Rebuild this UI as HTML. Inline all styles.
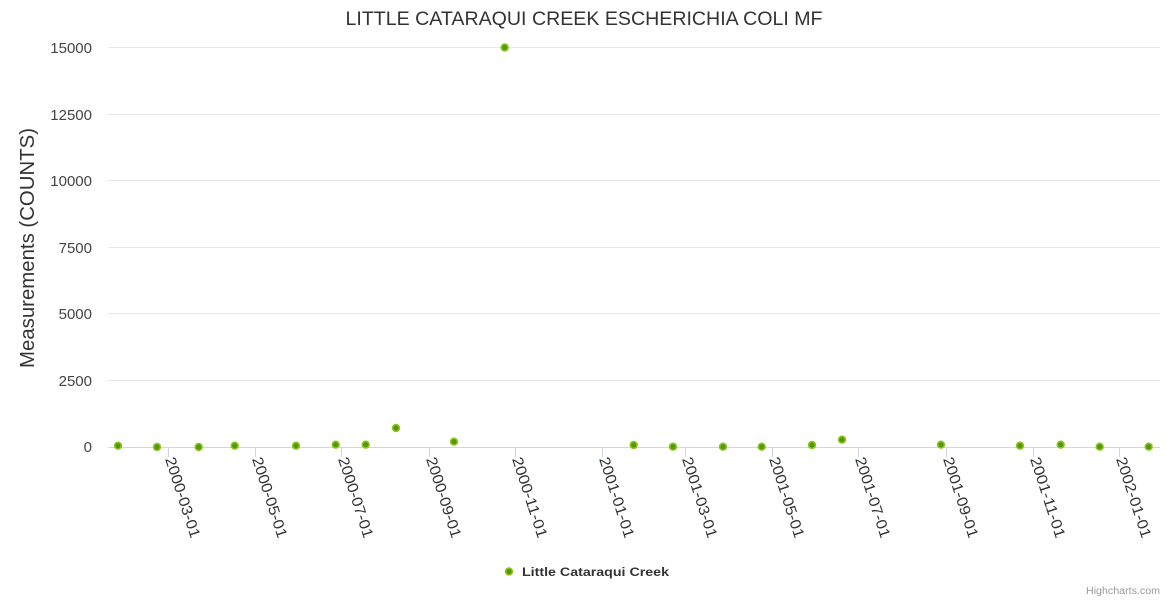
<!DOCTYPE html>
<html>
<head>
<meta charset="utf-8">
<style>
html,body{margin:0;padding:0;background:#fff;}
svg{display:block;font-family:"Liberation Sans",sans-serif;}
</style>
</head>
<body>
<svg width="1170" height="600" viewBox="0 0 1170 600" xmlns="http://www.w3.org/2000/svg">
<rect width="1170" height="600" fill="#ffffff"/>
<!-- title -->
<text x="584" y="25" text-anchor="middle" font-size="19" fill="#333333" textLength="477" lengthAdjust="spacingAndGlyphs">LITTLE CATARAQUI CREEK ESCHERICHIA COLI MF</text>
<!-- gridlines -->
<g stroke="#e6e6e6" stroke-width="1">
<line x1="108" y1="47.5" x2="1160" y2="47.5"/>
<line x1="108" y1="114.5" x2="1160" y2="114.5"/>
<line x1="108" y1="180.5" x2="1160" y2="180.5"/>
<line x1="108" y1="247.5" x2="1160" y2="247.5"/>
<line x1="108" y1="313.5" x2="1160" y2="313.5"/>
<line x1="108" y1="380.5" x2="1160" y2="380.5"/>
</g>
<!-- y labels -->
<g font-size="15" fill="#444444" text-anchor="end">
<text x="92" y="53">15000</text>
<text x="92" y="120">12500</text>
<text x="92" y="186">10000</text>
<text x="92" y="253">7500</text>
<text x="92" y="319">5000</text>
<text x="92" y="386">2500</text>
<text x="92" y="452">0</text>
</g>
<!-- y title -->
<text transform="translate(34,248) rotate(-90)" text-anchor="middle" font-size="20" fill="#333333" textLength="240" lengthAdjust="spacingAndGlyphs">Measurements (COUNTS)</text>
<!-- x axis -->
<line x1="108" y1="447.5" x2="1160" y2="447.5" stroke="#ccd6eb" stroke-width="1"/>
<g stroke="#ccd6eb" stroke-width="1">
<line x1="168.5" y1="447" x2="168.5" y2="457"/>
<line x1="255.5" y1="447" x2="255.5" y2="457"/>
<line x1="341.5" y1="447" x2="341.5" y2="457"/>
<line x1="429.5" y1="447" x2="429.5" y2="457"/>
<line x1="515.5" y1="447" x2="515.5" y2="457"/>
<line x1="602.5" y1="447" x2="602.5" y2="457"/>
<line x1="685.5" y1="447" x2="685.5" y2="457"/>
<line x1="772.5" y1="447" x2="772.5" y2="457"/>
<line x1="858.5" y1="447" x2="858.5" y2="457"/>
<line x1="946.5" y1="447" x2="946.5" y2="457"/>
<line x1="1033.5" y1="447" x2="1033.5" y2="457"/>
<line x1="1119.5" y1="447" x2="1119.5" y2="457"/>
</g>
<g font-size="15" fill="#333333">
<text transform="translate(165,459) rotate(72)" textLength="84" lengthAdjust="spacingAndGlyphs">2000-03-01</text>
<text transform="translate(252,459) rotate(72)" textLength="84" lengthAdjust="spacingAndGlyphs">2000-05-01</text>
<text transform="translate(338,459) rotate(72)" textLength="84" lengthAdjust="spacingAndGlyphs">2000-07-01</text>
<text transform="translate(426,459) rotate(72)" textLength="84" lengthAdjust="spacingAndGlyphs">2000-09-01</text>
<text transform="translate(512,459) rotate(72)" textLength="84" lengthAdjust="spacingAndGlyphs">2000-11-01</text>
<text transform="translate(599,459) rotate(72)" textLength="84" lengthAdjust="spacingAndGlyphs">2001-01-01</text>
<text transform="translate(682,459) rotate(72)" textLength="84" lengthAdjust="spacingAndGlyphs">2001-03-01</text>
<text transform="translate(769,459) rotate(72)" textLength="84" lengthAdjust="spacingAndGlyphs">2001-05-01</text>
<text transform="translate(855,459) rotate(72)" textLength="84" lengthAdjust="spacingAndGlyphs">2001-07-01</text>
<text transform="translate(943,459) rotate(72)" textLength="84" lengthAdjust="spacingAndGlyphs">2001-09-01</text>
<text transform="translate(1030,459) rotate(72)" textLength="84" lengthAdjust="spacingAndGlyphs">2001-11-01</text>
<text transform="translate(1116,459) rotate(72)" textLength="84" lengthAdjust="spacingAndGlyphs">2002-01-01</text>
</g>
<!-- points -->
<g fill="#4f9a05" stroke="#8fc31f" stroke-width="1.6">
<circle cx="118" cy="445.7" r="3.4"/>
<circle cx="157" cy="447" r="3.4"/>
<circle cx="198.7" cy="447" r="3.4"/>
<circle cx="234.7" cy="445.7" r="3.4"/>
<circle cx="296" cy="445.7" r="3.4"/>
<circle cx="335.7" cy="444.7" r="3.4"/>
<circle cx="365.7" cy="444.7" r="3.4"/>
<circle cx="396" cy="428" r="3.4"/>
<circle cx="454" cy="441.7" r="3.4"/>
<circle cx="504.7" cy="47.5" r="3.4"/>
<circle cx="633.7" cy="445" r="3.4"/>
<circle cx="673" cy="446.7" r="3.4"/>
<circle cx="723" cy="446.7" r="3.4"/>
<circle cx="761.7" cy="446.7" r="3.4"/>
<circle cx="812" cy="445" r="3.4"/>
<circle cx="842" cy="439.7" r="3.4"/>
<circle cx="941" cy="444.7" r="3.4"/>
<circle cx="1020" cy="445.7" r="3.4"/>
<circle cx="1060.7" cy="444.7" r="3.4"/>
<circle cx="1099.7" cy="446.7" r="3.4"/>
<circle cx="1148.7" cy="446.7" r="3.4"/>
</g>
<!-- legend -->
<circle cx="509" cy="571.5" r="3.4" fill="#4f9a05" stroke="#8fc31f" stroke-width="1.6"/>
<text x="522" y="576" font-size="12" font-weight="bold" fill="#333333" textLength="147" lengthAdjust="spacingAndGlyphs">Little Cataraqui Creek</text>
<!-- credits -->
<text x="1160" y="594" text-anchor="end" font-size="10" fill="#999999" textLength="74" lengthAdjust="spacingAndGlyphs">Highcharts.com</text>
</svg>
</body>
</html>
